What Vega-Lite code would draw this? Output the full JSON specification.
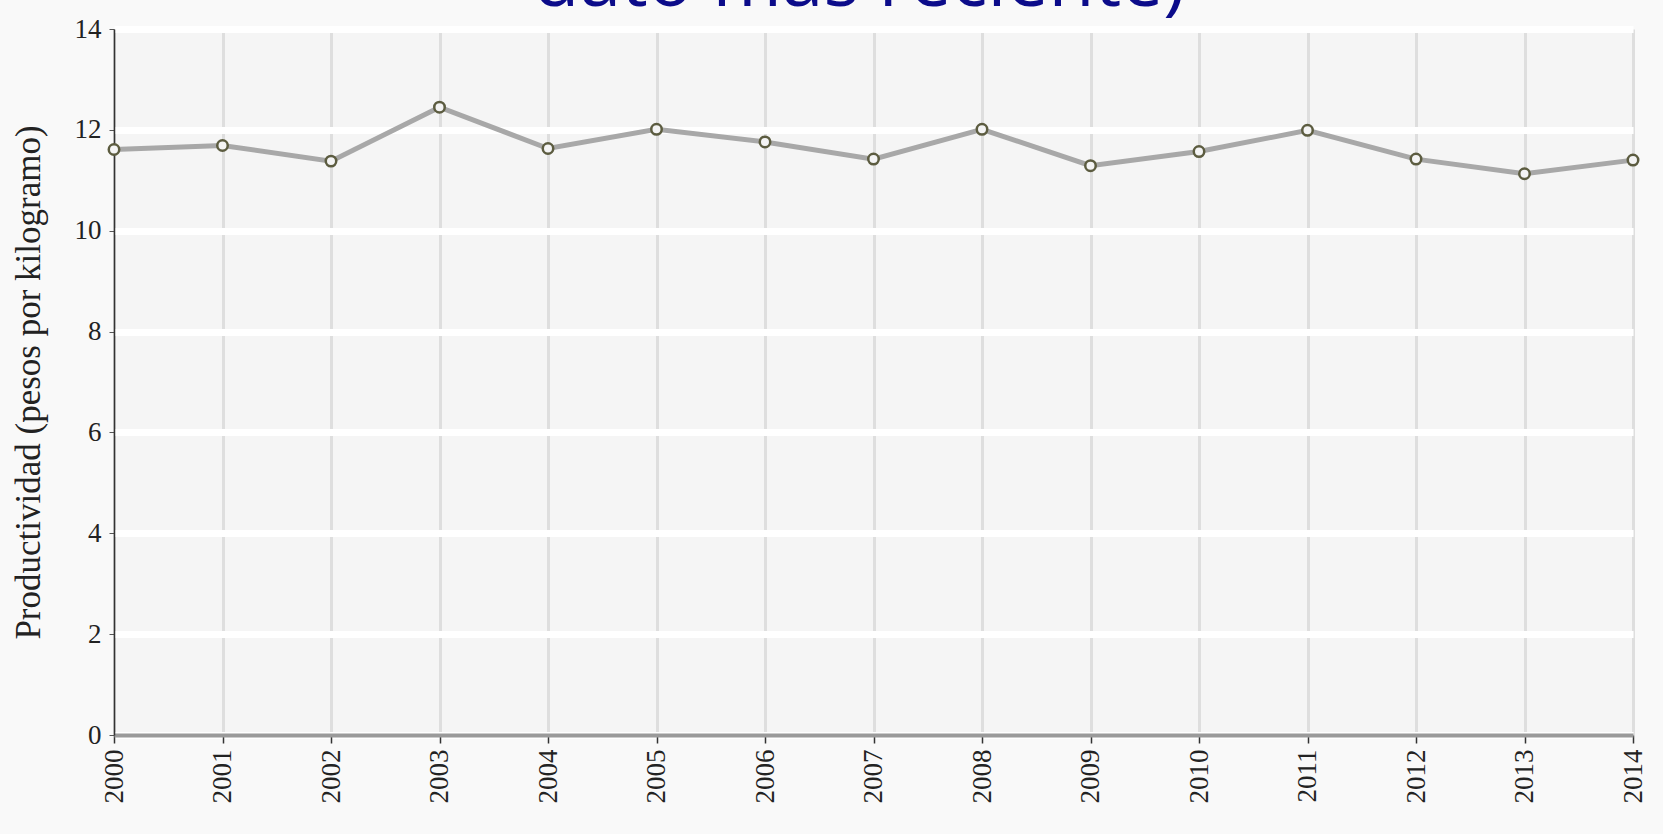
{
  "$schema": "https://vega.github.io/schema/vega-lite/v6.json",
  "autosize": "none",
  "width": 1519,
  "height": 706,
  "padding": {"left": 114, "top": 29, "right": 30, "bottom": 99},
  "background": "#f9f9f9",
  "title": {
    "text": "dato más reciente)",
    "font": "Open Sans",
    "fontSize": 75,
    "fontWeight": "normal",
    "color": "#0c0c8a",
    "frame": "group",
    "anchor": "middle",
    "baseline": "alphabetic",
    "offset": 0,
    "dx": -14,
    "dy": 66
  },
  "data": {
    "values": [
      {"anio": 2000, "productividad": 11.61},
      {"anio": 2001, "productividad": 11.69},
      {"anio": 2002, "productividad": 11.38},
      {"anio": 2003, "productividad": 12.45},
      {"anio": 2004, "productividad": 11.63},
      {"anio": 2005, "productividad": 12.01},
      {"anio": 2006, "productividad": 11.76},
      {"anio": 2007, "productividad": 11.42},
      {"anio": 2008, "productividad": 12.01},
      {"anio": 2009, "productividad": 11.29},
      {"anio": 2010, "productividad": 11.57},
      {"anio": 2011, "productividad": 11.99},
      {"anio": 2012, "productividad": 11.42},
      {"anio": 2013, "productividad": 11.13},
      {"anio": 2014, "productividad": 11.40}
    ]
  },
  "encoding": {
    "x": {
      "field": "anio",
      "type": "quantitative",
      "scale": {"domain": [2000, 2014], "nice": false, "zero": false},
      "axis": {
        "title": null,
        "values": [2000, 2001, 2002, 2003, 2004, 2005, 2006, 2007, 2008, 2009, 2010, 2011, 2012, 2013, 2014],
        "format": "d",
        "labelAngle": -90,
        "labelAlign": "right",
        "labelBaseline": "middle",
        "labelFont": "Liberation Serif",
        "labelFontSize": 27,
        "labelColor": "#222222",
        "labelPadding": 6,
        "domainColor": "#9a9a9a",
        "domainWidth": 4,
        "tickColor": "#333333",
        "tickSize": 8,
        "tickWidth": 1.5,
        "grid": true,
        "gridColor": "#dedede",
        "gridWidth": 3
      }
    },
    "y": {
      "field": "productividad",
      "type": "quantitative",
      "scale": {"domain": [0, 14], "nice": false},
      "axis": {
        "title": "Productividad (pesos por kilogramo)",
        "titleFont": "Liberation Serif",
        "titleFontSize": 35,
        "titleFontWeight": "normal",
        "titleColor": "#222222",
        "titlePadding": 28,
        "values": [0, 2, 4, 6, 8, 10, 12, 14],
        "labelFont": "Liberation Serif",
        "labelFontSize": 27,
        "labelColor": "#222222",
        "labelPadding": 8,
        "domainColor": "#333333",
        "domainWidth": 1.5,
        "tickColor": "#555555",
        "tickSize": 5,
        "grid": true,
        "gridColor": "#ffffff",
        "gridWidth": 7
      }
    }
  },
  "layer": [
    {
      "mark": {"type": "line", "color": "#a8a8a8", "strokeWidth": 5}
    },
    {
      "mark": {"type": "point", "shape": "circle", "size": 110, "filled": false, "fill": "#f4f4f4", "fillOpacity": 1, "stroke": "#5c5c40", "strokeWidth": 2.5, "opacity": 1}
    }
  ],
  "config": {
    "view": {"fill": "#f5f5f5", "stroke": null}
  }
}
